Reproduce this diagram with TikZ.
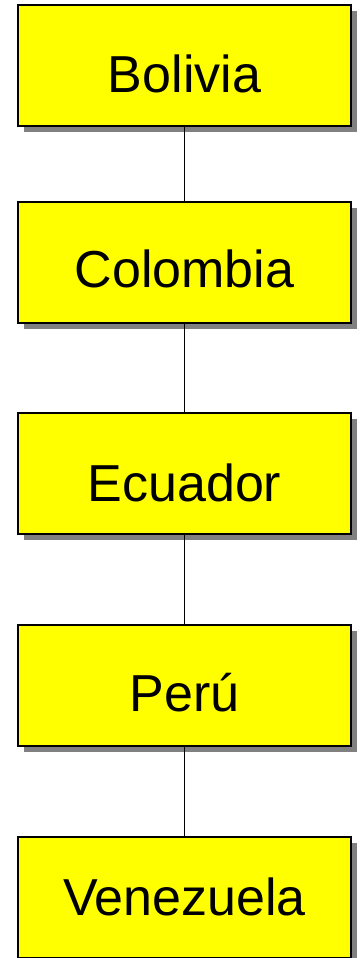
\documentclass[tikz,border=0pt]{standalone}
\usepackage{fontspec}
\setmainfont{Liberation Sans}
\usetikzlibrary{shadows}
\definecolor{boxyellow}{RGB}{255,255,0}
\definecolor{shadowgray}{RGB}{128,128,128}
\begin{document}
\begin{tikzpicture}[x=1pt,y=1pt,
  box/.style={draw=black, line width=2pt, fill=boxyellow, minimum width=333pt, minimum height=121pt, inner sep=0pt,
    drop shadow={shadow xshift=6pt, shadow yshift=-6pt, fill=shadowgray, opacity=1}},
  lbl/.style={anchor=base, inner sep=0pt, font=\fontsize{52}{60}\selectfont},
  conn/.style={draw=black, line width=1.8pt}]
\useasboundingbox (0,0) rectangle (359,958);
\node[box] (b1) at (184.5,892.5) {};
\node[box] (b2) at (184.5,695.5) {};
\node[box] (b3) at (184.5,484.5) {};
\node[box] (b4) at (184.5,272.5) {};
\node[box] (b5) at (184.5,60.5) {};
\node[lbl] (t1) at (184.5,865) {Bolivia};
\node[lbl] (t2) at (184.5,670) {Colombia};
\node[lbl] (t3) at (184.5,456) {Ecuador};
\node[lbl] (t4) at (184.5,246) {Perú};
\node[lbl] (t5) at (184.5,42) {Venezuela};
\draw[conn] (b1.south) -- (b2.north);
\draw[conn] (b2.south) -- (b3.north);
\draw[conn] (b3.south) -- (b4.north);
\draw[conn] (b4.south) -- (b5.north);
\end{tikzpicture}
\end{document}
